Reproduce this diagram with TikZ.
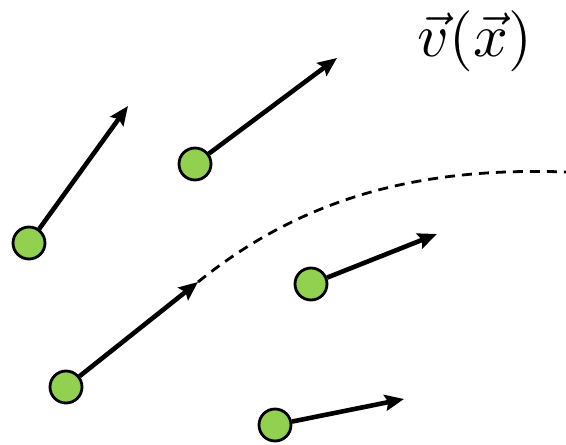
\documentclass[tikz,border=0pt]{standalone}
\usetikzlibrary{arrows.meta}

\definecolor{partgreen}{HTML}{92D050}

\begin{document}
\begin{tikzpicture}[
  x=1pt, y=-1pt,
  particle/.style={circle, draw=black, line width=2.8pt, fill=partgreen,
    minimum size=32pt, inner sep=0pt},
  vel/.style={-{Stealth[length=19pt, width=16pt, inset=3pt]}, line width=4.6pt},
  path/.style={line width=2.8pt, dash pattern=on 10pt off 7pt},
]
  \useasboundingbox (0,0) rectangle (566,445);

  % ===== particles =====
  \node[particle] (p1) at (29,243) {};
  \node[particle] (p2) at (195,164) {};
  \node[particle] (p3) at (311,284) {};
  \node[particle] (p4) at (66,387) {};
  \node[particle] (p5) at (275,425) {};

  % ===== velocity tips =====
  \coordinate (t1) at (128,106);
  \coordinate (t2) at (337,58);
  \coordinate (t3) at (437,234);
  \coordinate (t4) at (198,282);
  \coordinate (t5) at (404,399);
  \coordinate (end) at (566,172);

  \foreach \i in {1,...,5}
    \draw[vel] (p\i) -- (t\i);

  % ===== streamline =====
  \draw[path] (t4) .. controls (290,208) and (400,166) .. (end);

  \node[scale=6.1] (field) at (475,41) {$\vec{v}(\vec{x})$};
\end{tikzpicture}
\end{document}
